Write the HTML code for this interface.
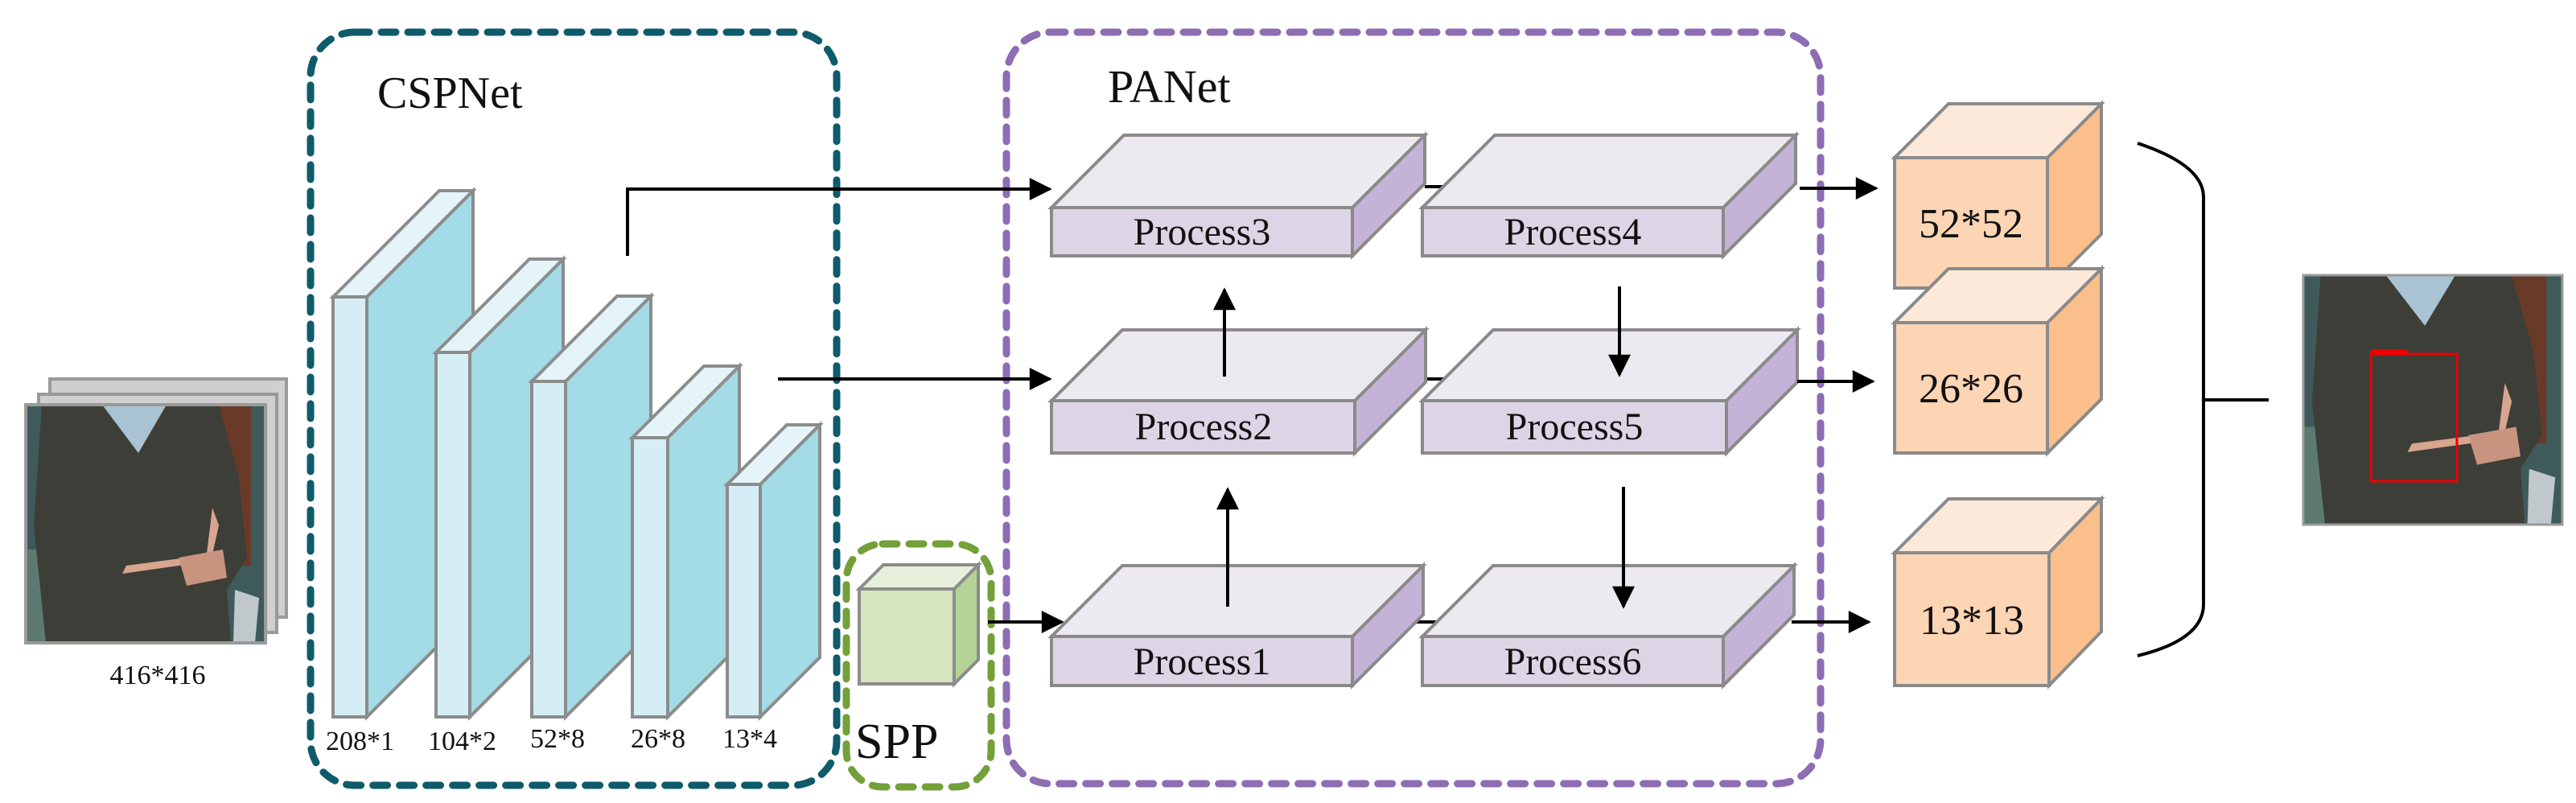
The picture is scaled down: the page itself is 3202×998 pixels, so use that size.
<!DOCTYPE html>
<html><head><meta charset="utf-8"><style>
html,body{margin:0;padding:0;background:#fff}
svg{display:block}
text{font-family:"Liberation Serif",serif;fill:#111}
</style></head><body>
<svg width="3202" height="998" viewBox="0 0 3202 998" xmlns="http://www.w3.org/2000/svg" font-family="Liberation Serif, serif">
<defs>
<marker id="ah" viewBox="0 0 10 10" refX="9" refY="5" markerWidth="36" markerHeight="28" markerUnits="userSpaceOnUse" orient="auto"><path d="M0,0 L10,5 L0,10 z" fill="#000"/></marker>
<g id="photo">
<rect x="0" y="0" width="298" height="296" fill="#3f5a5a"/>
<rect x="220" y="0" width="60" height="200" fill="#6a3a28"/>
<rect x="0" y="180" width="60" height="116" fill="#5c7a70"/>
<path d="M20,0 L240,0 L265,90 L275,190 L250,230 L255,296 L25,296 L10,150 Z" fill="#3e3e38"/>
<path d="M95,0 L175,0 L140,60 Z" fill="#a9c3d2"/>
<path d="M120,210 L190,200 L230,195 L240,150 L232,128 L225,185 L200,190 L125,200 Z" fill="#d8a690"/>
<path d="M190,190 L245,180 L250,215 L200,225 Z" fill="#c89480"/>
<path d="M260,230 L290,240 L285,296 L258,296 Z" fill="#c0c8cc"/>
</g>
</defs>

<!-- input image stack -->
<rect x="62" y="471" width="294" height="296" fill="#cfcfcf" stroke="#9a9a9a" stroke-width="4"/>
<rect x="48" y="490" width="296" height="296" fill="#cfcfcf" stroke="#9a9a9a" stroke-width="4"/>
<use href="#photo" transform="translate(32,503)"/>
<rect x="32" y="503" width="298" height="296" fill="none" stroke="#9a9a9a" stroke-width="4"/>
<text x="196" y="850" font-size="34" text-anchor="middle" font-family="Liberation Serif, serif">416*416</text>

<!-- CSPNet box -->
<rect x="386" y="40" width="654" height="936" rx="55" fill="none" stroke="#0f5b6b" stroke-width="9" stroke-dasharray="18 15" stroke-linecap="round"/>
<text x="469" y="134" font-size="56" font-family="Liberation Serif, serif">CSPNet</text>

<!-- slabs -->
<g stroke="#8c8c8c" stroke-width="4" stroke-linejoin="miter">
<polygon points="456,369 588,237 588,759 456,891" fill="#a3dbe6"/>
<polygon points="414,369 546,237 588,237 456,369" fill="#e4f4f8"/>
<rect x="414" y="369" width="42" height="522" fill="#d5eef5"/>
<polygon points="584,438 700,322 700,775 584,891" fill="#a3dbe6"/>
<polygon points="542,438 658,322 700,322 584,438" fill="#e4f4f8"/>
<rect x="542" y="438" width="42" height="453" fill="#d5eef5"/>
<polygon points="703,474 809,368 809,785 703,891" fill="#a3dbe6"/>
<polygon points="661,474 767,368 809,368 703,474" fill="#e4f4f8"/>
<rect x="661" y="474" width="42" height="417" fill="#d5eef5"/>
<polygon points="830,544 919,455 919,802 830,891" fill="#a3dbe6"/>
<polygon points="786,544 875,455 919,455 830,544" fill="#e4f4f8"/>
<rect x="786" y="544" width="44" height="347" fill="#d5eef5"/>
<polygon points="945,602 1019,528 1019,817 945,891" fill="#a3dbe6"/>
<polygon points="904,602 978,528 1019,528 945,602" fill="#e4f4f8"/>
<rect x="904" y="602" width="41" height="289" fill="#d5eef5"/>
</g>
<g font-size="34" font-family="Liberation Serif, serif">
<text x="405" y="932">208*1</text>
<text x="532" y="932">104*2</text>
<text x="659" y="929">52*8</text>
<text x="784" y="929">26*8</text>
<text x="898" y="929">13*4</text>
</g>

<!-- SPP -->
<rect x="1052" y="676" width="180" height="302" rx="45" fill="none" stroke="#74a03a" stroke-width="9" stroke-dasharray="18 15" stroke-linecap="round"/>
<g stroke="#8c8c8c" stroke-width="4">
<polygon points="1186,732 1216,702 1216,820 1186,850" fill="#b4d396"/>
<polygon points="1068,732 1098,702 1216,702 1186,732" fill="#e6efd9"/>
<rect x="1068" y="732" width="118" height="118" fill="#d6e5bd"/>
</g>
<text x="1063" y="942" font-size="62" font-family="Liberation Serif, serif">SPP</text>

<!-- PANet box -->
<rect x="1251" y="40" width="1012" height="934" rx="55" fill="none" stroke="#8d6db3" stroke-width="9" stroke-dasharray="18 15" stroke-linecap="round"/>
<text x="1377" y="127" font-size="58" font-family="Liberation Serif, serif">PANet</text>

<!-- arrows into PANet -->
<g stroke="#000" stroke-width="4" fill="none">
<polyline points="780,318 780,235 1305,235" marker-end="url(#ah)"/>
<line x1="967" y1="471" x2="1305" y2="471" marker-end="url(#ah)"/>
<line x1="1228" y1="773" x2="1320" y2="773" marker-end="url(#ah)"/>
<line x1="1771" y1="232" x2="1800" y2="232"/>
<line x1="1772" y1="471" x2="1800" y2="471"/>
<line x1="1752" y1="773" x2="1800" y2="773"/>
</g>

<!-- process boxes -->
<g stroke="#8a8a8a" stroke-width="4">
<polygon points="1681,258 1771,168 1771,228 1681,318" fill="#c4b3d6"/>
<polygon points="1307,258 1397,168 1771,168 1681,258" fill="#ede9f1"/>
<rect x="1307" y="258" width="374" height="60" fill="#ddd5e6"/>
<polygon points="2142,258 2232,168 2232,228 2142,318" fill="#c4b3d6"/>
<polygon points="1768,258 1858,168 2232,168 2142,258" fill="#ede9f1"/>
<rect x="1768" y="258" width="374" height="60" fill="#ddd5e6"/>
<polygon points="1684,498 1772,410 1772,475 1684,563" fill="#c4b3d6"/>
<polygon points="1307,498 1395,410 1772,410 1684,498" fill="#ede9f1"/>
<rect x="1307" y="498" width="377" height="65" fill="#ddd5e6"/>
<polygon points="2146,498 2234,410 2234,475 2146,563" fill="#c4b3d6"/>
<polygon points="1768,498 1856,410 2234,410 2146,498" fill="#ede9f1"/>
<rect x="1768" y="498" width="378" height="65" fill="#ddd5e6"/>
<polygon points="1681,791 1769,703 1769,764 1681,852" fill="#c4b3d6"/>
<polygon points="1307,791 1395,703 1769,703 1681,791" fill="#ede9f1"/>
<rect x="1307" y="791" width="374" height="61" fill="#ddd5e6"/>
<polygon points="2142,791 2230,703 2230,764 2142,852" fill="#c4b3d6"/>
<polygon points="1768,791 1856,703 2230,703 2142,791" fill="#ede9f1"/>
<rect x="1768" y="791" width="374" height="61" fill="#ddd5e6"/>
</g>
<g font-size="48" text-anchor="middle" font-family="Liberation Serif, serif">
<text x="1494" y="304">Process3</text>
<text x="1955" y="304">Process4</text>
<text x="1496" y="546">Process2</text>
<text x="1957" y="546">Process5</text>
<text x="1494" y="838">Process1</text>
<text x="1955" y="838">Process6</text>
</g>

<!-- vertical arrows -->
<g stroke="#000" stroke-width="4" fill="none">
<line x1="1522" y1="468" x2="1522" y2="360" marker-end="url(#ah)"/>
<line x1="1526" y1="754" x2="1526" y2="608" marker-end="url(#ah)"/>
<line x1="2013" y1="356" x2="2013" y2="466" marker-end="url(#ah)"/>
<line x1="2018" y1="605" x2="2018" y2="754" marker-end="url(#ah)"/>
<line x1="2237" y1="234" x2="2332" y2="234" marker-end="url(#ah)"/>
<line x1="2234" y1="474" x2="2328" y2="474" marker-end="url(#ah)"/>
<line x1="2227" y1="773" x2="2323" y2="773" marker-end="url(#ah)"/>
</g>

<!-- output cubes -->
<g stroke="#8a8a8a" stroke-width="4">
<polygon points="2545,196 2612,129 2612,291 2545,358" fill="#fbbf8c"/>
<polygon points="2355,196 2422,129 2612,129 2545,196" fill="#fde9d9"/>
<rect x="2355" y="196" width="190" height="162" fill="#fcd5b4"/>
<polygon points="2545,401 2612,334 2612,496 2545,563" fill="#fbbf8c"/>
<polygon points="2355,401 2422,334 2612,334 2545,401" fill="#fde9d9"/>
<rect x="2355" y="401" width="190" height="162" fill="#fcd5b4"/>
<polygon points="2547,687 2612,620 2612,785 2547,852" fill="#fbbf8c"/>
<polygon points="2355,687 2422,620 2612,620 2547,687" fill="#fde9d9"/>
<rect x="2355" y="687" width="192" height="165" fill="#fcd5b4"/>
</g>
<g font-size="52" text-anchor="middle" font-family="Liberation Serif, serif">
<text x="2450" y="295">52*52</text>
<text x="2450" y="500">26*26</text>
<text x="2451" y="788">13*13</text>
</g>

<!-- brace -->
<path d="M2657,178 Q2739,205 2739,245 L2739,751 Q2739,795 2657,815" fill="none" stroke="#000" stroke-width="4"/>
<line x1="2739" y1="497" x2="2820" y2="497" stroke="#000" stroke-width="4"/>

<!-- output photo -->
<g transform="translate(2863,342) scale(1.08,1.047)"><use href="#photo"/></g>
<rect x="2863" y="342" width="322" height="310" fill="none" stroke="#9a9a9a" stroke-width="3"/>
<rect x="2947" y="440" width="107" height="158" fill="none" stroke="#e00" stroke-width="3"/>
<rect x="2947" y="434" width="45" height="7" fill="#e00"/>
</svg>
</body></html>
